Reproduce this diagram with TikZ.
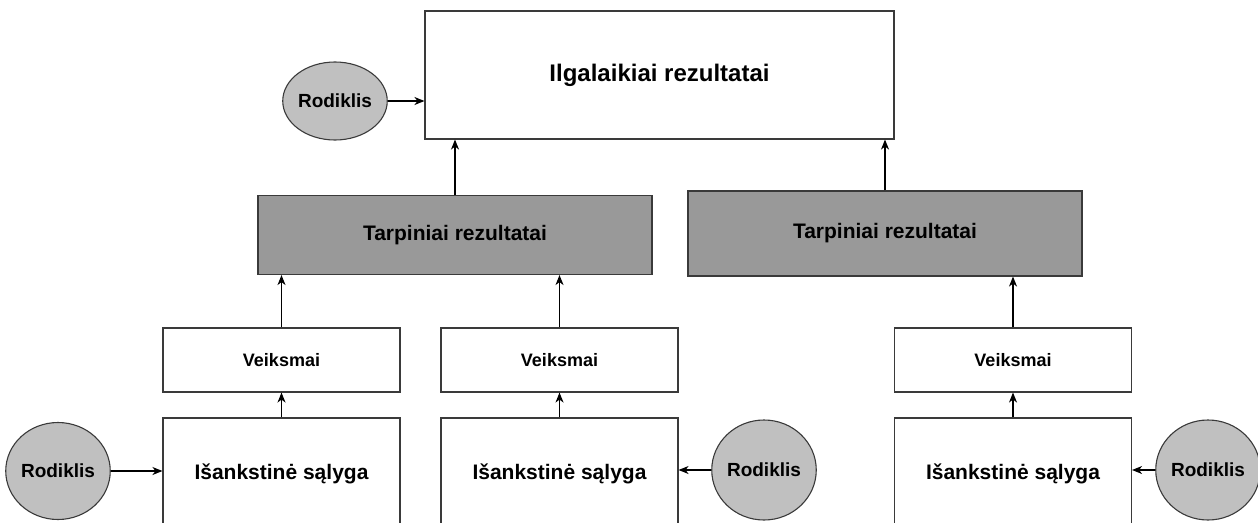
\documentclass[tikz,border=0pt]{standalone}
\usepackage{fontspec}
\setmainfont{Liberation Sans}
\usetikzlibrary{arrows.meta,shapes.geometric}
\definecolor{midgray}{HTML}{999999}
\definecolor{dotgray}{HTML}{C0C0C0}
\definecolor{edgegray}{HTML}{3A3A3A}

\begin{document}
\begin{tikzpicture}[x=1pt, y=-1pt, line width=1.1pt,
    box/.style={rectangle, draw=edgegray, fill=white, inner sep=0pt, font=\bfseries},
    mid/.style={box, fill=midgray},
    dot/.style={ellipse, draw=edgegray, fill=dotgray, inner sep=0pt, font=\bfseries\fontsize{19}{22}\selectfont},
    arr/.style={-{Stealth[length=10pt, width=8pt, inset=3pt]}, black}]
    \clip (0,0) rectangle (1258,522);
    \node[box, minimum width=469pt, minimum height=128pt, font=\bfseries\fontsize{24}{28}\selectfont] (il) at (659.5,75) {Ilgalaikiai rezultatai};
    \node[dot, minimum width=90pt, minimum height=78pt] (r0) at (335,101) {Rodiklis};
    \node[mid, minimum width=394pt, minimum height=79pt, font=\bfseries\fontsize{21}{25}\selectfont] (t1) at (455,235) {Tarpiniai rezultatai};
    \node[mid, minimum width=394pt, minimum height=85pt, font=\bfseries\fontsize{21}{25}\selectfont] (t2) at (885,233.5) {Tarpiniai rezultatai};
    % lower rows
    \foreach \n/\x in {1/281.5, 2/559.5, 3/1013} {
        \node[box, minimum width=237pt, minimum height=64pt, font=\bfseries\fontsize{18}{22}\selectfont] (v\n) at (\x,360) {Veiksmai};
        \node[box, minimum width=237pt, minimum height=112pt, font=\bfseries\fontsize{21}{25}\selectfont] (s\n) at (\x,474) {Išankstinė sąlyga};
        \draw[arr] (s\n) -- (v\n);
    }
    \node[dot, minimum width=100pt, minimum height=97pt] (r1) at (58,471) {Rodiklis};
    \node[dot, minimum width=98pt, minimum height=100pt] (r2) at (764,470) {Rodiklis};
    \node[dot, minimum width=98pt, minimum height=100pt] (r3) at (1208,470) {Rodiklis};
        \draw[arr] (r0) -- (r0 -| il.west);
        \draw[arr] (t1) -- (t1.north |- il.south);
        \draw[arr] (t2) -- (t2.north |- il.south);
        \draw[arr] (v1) -- (v1.north |- t1.south);
        \draw[arr] (v2) -- (v2.north |- t1.south);
        \draw[arr] (v3) -- (v3.north |- t2.south);
        \draw[arr] (r1) -- (r1 -| s1.west);
        \draw[arr] (r2) -- (r2 -| s2.east);
        \draw[arr] (r3) -- (r3 -| s3.east);
\end{tikzpicture}
\end{document}
